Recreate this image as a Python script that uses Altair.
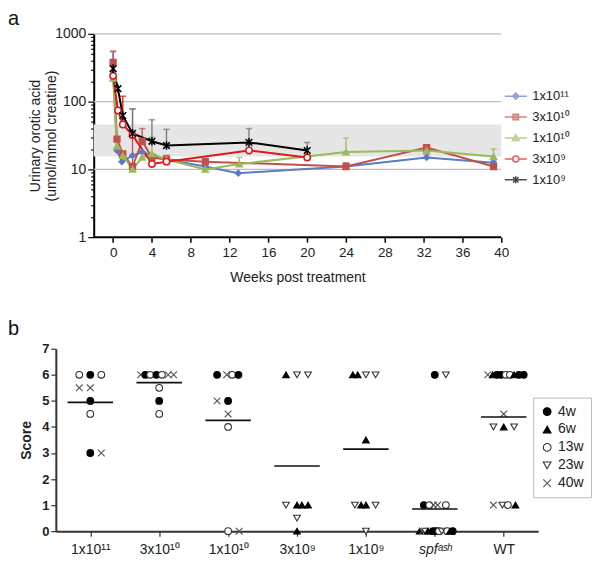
import json
import altair as alt
import pandas as pd

# ---------------- Panel a data ----------------
series_names = ["1x10¹¹", "3x10¹⁰", "1x10¹⁰", "3x10⁹", "1x10⁹"]
series_colors = ["#5B7BC4", "#C0504D", "#9BBB59", "#E3161B", "#000000"]
err_colors = ["#8A7FC0", "#C0504D", "#9BBB59", "#E3161B", "#777777"]

w_1e11 = [0, 0.4, 0.9, 2, 3, 4, 5.5, 9.5, 12.9, 24, 32.3, 39.2]
v_1e11 = [280, 19, 13, 16, 18, 16, 14, 11, 8.8, 11, 15, 12.5]
u_1e11 = [540, None, None, None, None, None, None, None, None, None, 16.5, 13.5]

w_3e10 = [0, 0.4, 1, 2, 3, 4, 5.5, 9.5, 24, 32.3, 39.2]
v_3e10 = [380, 28, 17, 11, 26, 15, 14, 13, 11, 21, 11]
u_3e10 = [560, None, None, 78, 40, None, None, 14, 12.5, 23, None]

w_1e10 = [0, 0.4, 1, 2, 3, 4, 5.5, 9.5, 13, 24, 32.3, 39.2]
v_1e10 = [220, 22, 16, 10, 15, 17, 14, 10, 12, 18, 19, 15.5]
u_1e10 = [None, None, None, None, None, 30, None, None, 15, 29, 21, 20]

w_3e9 = [0, 0.5, 1, 2, 4, 5.5, 14, 20]
v_3e9 = [240, 74, 46, 32, 12, 13, 19, 15]
u_3e9 = [None, None, 120, None, None, 16, None, None]

w_1e9 = [0, 0.5, 1, 2, 4, 5.5, 14, 20]
v_1e9 = [306, 155, 62, 34, 26, 22.5, 25, 19]
u_1e9 = [None, None, None, 78, 54, 39, 40, 25]

band_low, band_high = 15.5, 46
grid_values = [10, 100, 1000]
week_min, week_max = -2, 40

# ---------------- Panel b data ----------------
group_labels = ["1x10¹¹", "3x10¹⁰", "1x10¹⁰", "3x10⁹", "1x10⁹", "spfᵃˢʰ", "WT"]
time_labels = ["4w", "6w", "13w", "23w", "40w"]

g1_score = [6, 6, 6, 5.5, 5.5, 5, 4.5, 3, 3]
g1_time = ["13w", "4w", "13w", "40w", "40w", "4w", "13w", "4w", "40w"]
g1_off = [-0.16, 0, 0.16, -0.16, 0, 0, 0, 0, 0.16]

g2_score = [6, 6, 6, 6, 6, 6, 6, 5.5, 5, 4.5]
g2_time = ["40w", "4w", "13w", "4w", "13w", "40w", "40w", "13w", "4w", "13w"]
g2_off = [-0.27, -0.2, -0.13, -0.04, 0.04, 0.13, 0.21, 0, 0, 0]

g3_score = [6, 6, 6, 6, 5, 5, 4.5, 4, 0, 0]
g3_time = ["4w", "40w", "13w", "4w", "40w", "4w", "40w", "13w", "13w", "40w"]
g3_off = [-0.16, -0.02, 0.06, 0.15, -0.16, 0, 0, 0, 0, 0.16]

g4_score = [6, 6, 6, 1, 1, 1, 1, 0.5, 0]
g4_time = ["6w", "23w", "23w", "23w", "6w", "6w", "6w", "23w", "6w"]
g4_off = [-0.16, 0, 0.16, -0.16, 0, 0.07, 0.16, 0, 0]

g5_score = [6, 6, 6, 6, 3.5, 1, 1, 1, 1, 0]
g5_time = ["6w", "6w", "23w", "23w", "6w", "23w", "6w", "6w", "23w", "23w"]
g5_off = [-0.19, -0.12, 0, 0.14, 0, -0.16, -0.07, 0, 0.14, 0]

g6_score = [6, 6, 1, 1, 1, 1, 1] + [0] * 13
g6_time = ["4w", "23w", "4w", "13w", "40w", "40w", "13w",
           "6w", "40w", "23w", "6w", "6w", "4w", "4w", "13w", "23w", "40w", "13w", "6w", "4w"]
g6_off = [0, 0.16, -0.16, -0.08, -0.02, 0.04, 0.16,
          -0.22, -0.18, -0.14, -0.10, -0.06, -0.02, 0.02, 0.06, 0.10, 0.14, 0.18, 0.22, 0.26]

g7_score = [6] * 9 + [4.5, 4, 4, 4, 1, 1, 1, 1]
g7_time = ["40w", "6w", "4w", "4w", "13w", "13w", "6w", "4w", "4w",
           "40w", "23w", "6w", "23w", "40w", "23w", "13w", "6w"]
g7_off = [-0.23, -0.16, -0.10, -0.04, 0.03, 0.09, 0.15, 0.22, 0.29,
          0, -0.15, 0, 0.15, -0.15, -0.02, 0.06, 0.17]

FONT = "Liberation Sans"

# ---------------- build panel a ----------------
rows = []
for name, ws, vs, us in zip(series_names,
                            [w_1e11, w_3e10, w_1e10, w_3e9, w_1e9],
                            [v_1e11, v_3e10, v_1e10, v_3e9, v_1e9],
                            [u_1e11, u_3e10, u_1e10, u_3e9, u_1e9]):
    for w, v, u in zip(ws, vs, us):
        rows.append({"series": name, "week": w, "value": v, "upper": u})
top_df = pd.DataFrame(rows)
err_df = top_df.dropna(subset=["upper"])

PLOT_W = 409          # width of the drawn axis frame (-2 .. 40 weeks)
SHIFT = 38            # extra room left of the y axis so both panels start together
px_per_week = PLOT_W / (week_max - week_min)
x_left = week_min - SHIFT / px_per_week

xs = alt.Scale(domain=[x_left, week_max], nice=False, zero=False)
ys = alt.Scale(type="log", domain=[1, 1000], nice=False)

y_ticks = [m * 10 ** e for e in range(0, 3) for m in range(1, 10)] + [1000]
major_test = "datum.value==1||datum.value==10||datum.value==100||datum.value==1000"

band_df = pd.DataFrame({"lo": [band_low], "hi": [band_high], "x0": [week_min], "x1": [week_max]})
band = alt.Chart(band_df).mark_rect(color="#e6e6e6").encode(
    x=alt.X("x0:Q", scale=xs, axis=alt.Axis(
        values=list(range(0, 41, 2)), title="Weeks post treatment", grid=False, domain=False,
        tickSize=5, tickColor="black", tickWidth=1.5,
        labelFontSize=13.5, labelColor="#222", labelPadding=3, labelFlush=False,
        labelOverlap=False,
        titleFontSize=14, titleFontWeight="normal", titleColor="#222", titlePadding=12,
        titleX=SHIFT + PLOT_W / 2)),
    x2="x1:Q",
    y=alt.Y("lo:Q", scale=ys, axis=alt.Axis(
        values=y_ticks, title=["Urinary orotic acid", "(umol/mmol creatine)"], grid=False,
        offset=-SHIFT,
        labelExpr=f"({major_test}) ? format(datum.value, 'd') : ''",
        tickSize={"condition": {"test": major_test, "value": 6}, "value": 3},
        tickColor="black", tickWidth=1.2, domainColor="black", domainWidth=2,
        labelFontSize=14, labelColor="#222", labelOverlap=False, labelFlush=False,
        titleFontSize=14, titleFontWeight="normal", titleColor="#222", titlePadding=-4)),
    y2="hi:Q",
)

grid_df = pd.DataFrame({"g": grid_values, "x0": [week_min] * 3, "x1": [week_max] * 3})
grid = alt.Chart(grid_df).mark_rule(color="#bdbdbd", strokeWidth=1.3).encode(
    x=alt.X("x0:Q", scale=xs), x2="x1:Q", y=alt.Y("g:Q", scale=ys))

xaxis_df = pd.DataFrame({"y": [1], "x0": [week_min], "x1": [week_max]})
xaxis_line = alt.Chart(xaxis_df).mark_rule(color="black", strokeWidth=2).encode(
    x=alt.X("x0:Q", scale=xs), x2="x1:Q", y=alt.Y("y:Q", scale=ys))

err_rule = alt.Chart(err_df).mark_rule(strokeWidth=1.3).encode(
    x=alt.X("week:Q", scale=xs), y=alt.Y("value:Q", scale=ys), y2="upper:Q",
    color=alt.Color("series:N", scale=alt.Scale(domain=series_names, range=err_colors), legend=None))
err_cap = alt.Chart(err_df).mark_point(shape="stroke", size=40, strokeWidth=1.5).encode(
    x=alt.X("week:Q", scale=xs), y=alt.Y("upper:Q", scale=ys),
    color=alt.Color("series:N", scale=alt.Scale(domain=series_names, range=err_colors), legend=None))

lines = alt.Chart(top_df).mark_line(strokeWidth=2).encode(
    x=alt.X("week:Q", scale=xs), y=alt.Y("value:Q", scale=ys),
    detail="series:N",
    stroke=alt.Stroke("series:N", scale=alt.Scale(domain=series_names, range=series_colors), legend=None),
    order="week:Q")

asterisk = "M-1,-1L1,1M-1,1L1,-1M0,-1.3L0,1.3"
pts = alt.Chart(top_df).mark_point(filled=False, strokeWidth=1.5, opacity=1).encode(
    x=alt.X("week:Q", scale=xs), y=alt.Y("value:Q", scale=ys),
    shape=alt.Shape("series:N", scale=alt.Scale(domain=series_names,
                    range=["diamond", "square", "triangle-up", "circle", asterisk]), legend=None),
    fill=alt.Fill("series:N", scale=alt.Scale(domain=series_names,
                  range=["#5B7BC4", "#C0504D", "#9BBB59", "white", "transparent"]), legend=None),
    stroke=alt.Stroke("series:N", scale=alt.Scale(domain=series_names, range=series_colors), legend=None),
    size=alt.Size("series:N", scale=alt.Scale(domain=series_names, range=[30, 45, 45, 100, 60]), legend=None),
)

leg_shapes = [
    "M-2.2,0L2.2,0M0,-0.6L0.6,0L0,0.6L-0.6,0Z",
    "M-2.2,0L2.2,0M-0.55,-0.55L0.55,-0.55L0.55,0.55L-0.55,0.55Z",
    "M-2.2,0L2.2,0M0,-0.65L0.65,0.5L-0.65,0.5Z",
    "M-2.2,0L-0.6,0M0.6,0L2.2,0M0.6,0A0.6,0.6 0 1,1 -0.6,0A0.6,0.6 0 1,1 0.6,0",
    "M-2.2,0L2.2,0M-0.55,-0.55L0.55,0.55M-0.55,0.55L0.55,-0.55M0,-0.7L0,0.7",
]
leg_df = pd.DataFrame({"series": series_names, "week": [None] * 5, "value": [None] * 5})
leg = alt.Chart(leg_df).mark_point(filled=False, strokeWidth=1.5).encode(
    x=alt.X("week:Q", scale=xs), y=alt.Y("value:Q", scale=ys),
    shape=alt.Shape("series:N", scale=alt.Scale(domain=series_names, range=leg_shapes),
                    legend=alt.Legend(title=None, orient="none", legendX=SHIFT + 417, legendY=56,
                                      labelFontSize=13, labelColor="#222", symbolSize=100,
                                      symbolStrokeWidth=1.5, rowPadding=7, labelOffset=10,
                                      labelFont=FONT)),
    fill=alt.Fill("series:N", scale=alt.Scale(domain=series_names,
                  range=["#5B7BC4", "#C0504D", "#9BBB59", "white", "transparent"])),
    stroke=alt.Stroke("series:N", scale=alt.Scale(domain=series_names, range=series_colors)),
)

label_a = alt.Chart(pd.DataFrame({"t": ["a"]})).mark_text(
    fontSize=20, align="left", baseline="middle", font=FONT, color="#111").encode(
    text="t:N", x=alt.value(-48), y=alt.value(-15))

top = alt.layer(band, grid, xaxis_line, err_rule, err_cap, lines, pts, leg, label_a).resolve_scale(
    shape="independent", fill="independent", stroke="independent", color="independent"
).properties(width=PLOT_W + SHIFT, height=204)

# ---------------- build panel b ----------------
brows = []
for gi, (sc, tm, of) in enumerate([(g1_score, g1_time, g1_off), (g2_score, g2_time, g2_off),
                                   (g3_score, g3_time, g3_off), (g4_score, g4_time, g4_off),
                                   (g5_score, g5_time, g5_off), (g6_score, g6_time, g6_off),
                                   (g7_score, g7_time, g7_off)]):
    for s, t, o in zip(sc, tm, of):
        brows.append({"gi": gi, "score": s, "time": t, "xpos": gi + o})
bot_df = pd.DataFrame(brows)

bxs = alt.Scale(domain=[-0.5, 6.5], nice=False, zero=False)
bys = alt.Scale(domain=[0, 7], nice=False)
lab_expr = json.dumps(group_labels, ensure_ascii=False) + "[datum.value]"

bx_axis = alt.Axis(
    values=list(range(7)), labelExpr=lab_expr, title=None, grid=False,
    tickSize=5, tickColor="#333", tickWidth=1.2, domainColor="#333", domainWidth=2,
    labelFontSize=14, labelColor="#222", labelPadding=6, labelOverlap=False,
    labelFontStyle={"condition": {"test": "datum.value == 5", "value": "italic"}, "value": "normal"})
by_axis = alt.Axis(
    values=list(range(8)), title="Score", grid=False, tickSize=5, tickColor="#333",
    tickWidth=1.2, domainColor="#333", domainWidth=2, labelFontSize=13,
    labelOverlap=False, labelFlush=False,
    labelFontWeight="bold", labelColor="#222", titleFontSize=14, titleFontWeight="bold",
    titleColor="#222", titlePadding=8)

xmark = "M-1,-1L1,1M-1,1L1,-1"
bpts = alt.Chart(bot_df).mark_point(strokeWidth=1.1, opacity=1).encode(
    x=alt.X("xpos:Q", scale=bxs, axis=bx_axis),
    y=alt.Y("score:Q", scale=bys, axis=by_axis),
    shape=alt.Shape("time:N", scale=alt.Scale(domain=time_labels,
                    range=["circle", "triangle-up", "circle", "triangle-down", xmark]),
                    legend=alt.Legend(title=None, orient="none", legendX=479, legendY=49,
                                      strokeColor="#bbbbbb", padding=7, labelFontSize=14,
                                      labelColor="#222", symbolSize=60, rowPadding=4,
                                      labelFont=FONT, symbolStrokeWidth=1.1)),
    fill=alt.Fill("time:N", scale=alt.Scale(domain=time_labels,
                  range=["black", "black", "white", "white", "transparent"])),
    stroke=alt.Stroke("time:N", scale=alt.Scale(domain=time_labels,
                      range=["black", "black", "#333", "#333", "#555"])),
    size=alt.value(45),
)

mean_rule = alt.Chart(bot_df).transform_aggregate(
    mean="mean(score)", groupby=["gi"]
).transform_calculate(x1="datum.gi - 0.33", x2="datum.gi + 0.33").mark_rule(
    color="#111", strokeWidth=1.6).encode(
    x=alt.X("x1:Q", scale=bxs, axis=bx_axis), x2="x2:Q",
    y=alt.Y("mean:Q", scale=bys, axis=by_axis))

label_b = alt.Chart(pd.DataFrame({"t": ["b"]})).mark_text(
    fontSize=20, align="left", baseline="middle", font=FONT, color="#111").encode(
    text="t:N", x=alt.value(-48), y=alt.value(-20))

bottom = alt.layer(bpts, mean_rule, label_b).properties(width=484, height=183)

chart = alt.concat(top, bottom, columns=1, spacing=34,
                   padding={"left": 0, "top": 0, "right": 0, "bottom": 0}
).resolve_legend(shape="independent", fill="independent", stroke="independent"
).configure(font=FONT).configure_view(stroke=None)

chart.save("out.html", embed_options={"renderer": "svg", "actions": False})
